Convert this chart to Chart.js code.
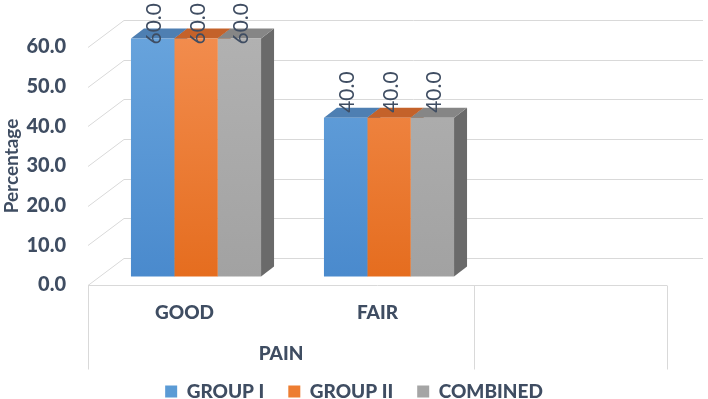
<!DOCTYPE html>
<html>
<head>
<meta charset="utf-8">
<script src="https://cdn.jsdelivr.net/npm/chart.js@4"></script>
<style>
  html, body { margin: 0; padding: 0; background: #fff; }
  canvas { display: block; }
</style>
</head>
<body>
<canvas id="myChart" width="708" height="399"></canvas>
<script>
// data
const categories = ['GOOD', 'FAIR', ''];
const groupLabel = 'PAIN';
const seriesNames = ['GROUP I', 'GROUP II', 'COMBINED'];
const group1 = [60.0, 40.0, null];
const group2 = [60.0, 40.0, null];
const combined = [60.0, 40.0, null];
const yTicks = [0, 10, 20, 30, 40, 50, 60];

const textColor = '#3f4d62';
const gridColor = '#d9d9d9';
const boldWeight = '900';

// colours: front face (top, bottom), top face, side face
const faceColors = [
    { top: '#67a3dc', bottom: '#4a8acd', cap: '#4e7fb2', side: '#3f6e9f', legend: '#5B9BD5' },
    { top: '#f28c4d', bottom: '#e56d1f', cap: '#c4622a', side: '#a9541f', legend: '#ED7D31' },
    { top: '#b1b1b1', bottom: '#a2a2a2', cap: '#868686', side: '#6a6a6a', legend: '#A5A5A5' }
];

// depth of floor / wall and of the bars
const WALL_DX = 36, WALL_DY = -27;
const BAR_DX = 13, BAR_DY = -10;
const SHIFT_X = 11.5, SHIFT_Y = -8.5;

function gradient(c) {
    return (context) => {
        const ca = context.chart.chartArea;
        if (!ca) return c.bottom;
        const g = context.chart.ctx.createLinearGradient(0, ca.top, 0, ca.bottom);
        g.addColorStop(0, c.top);
        g.addColorStop(1, c.bottom);
        return g;
    };
}

const excel3d = {
    id: 'excel3d',
    beforeDatasetsDraw(chart) {
        const ctx = chart.ctx;
        const ca = chart.chartArea;
        const xs = chart.scales.x;
        const ys = chart.scales.y;

        ctx.save();
        ctx.strokeStyle = gridColor;
        ctx.lineWidth = 1;
        // back wall grid with side wall diagonals
        yTicks.forEach((v) => {
            const y = Math.round(ys.getPixelForValue(v)) + 0.5;
            ctx.beginPath();
            ctx.moveTo(ca.left, y);
            ctx.lineTo(ca.left + WALL_DX, y + WALL_DY);
            ctx.lineTo(ca.right + WALL_DX, y + WALL_DY);
            ctx.stroke();
        });
        // floor front edge and category boxes
        const bottom = Math.round(ca.bottom) + 0.5;
        ctx.beginPath();
        ctx.moveTo(ca.left, bottom);
        ctx.lineTo(ca.right, bottom);
        const half = (xs.getPixelForValue(1) - xs.getPixelForValue(0)) / 2;
        const splitX = xs.getPixelForValue(1) + half;
        [ca.left, splitX, ca.right].forEach((x) => {
            const px = Math.round(x) + 0.5;
            ctx.moveTo(px, bottom);
            ctx.lineTo(px, bottom + 84);
        });
        ctx.stroke();

        // category labels and group label
        ctx.fillStyle = textColor;
        ctx.font = boldWeight + ' 19px Lato';
        ctx.textAlign = 'center';
        ctx.textBaseline = 'middle';
        categories.forEach((c, i) => {
            if (c) ctx.fillText(c, xs.getPixelForValue(i), ca.bottom + 28);
        });
        const groupX = (xs.getPixelForValue(0) + xs.getPixelForValue(1)) / 2;
        ctx.fillText(groupLabel, groupX, ca.bottom + 69);
        ctx.restore();

        // bars are drawn shifted into the middle of the depth
        ctx.save();
        ctx.translate(SHIFT_X, SHIFT_Y);
        chart.data.datasets.forEach((ds, di) => {
            const meta = chart.getDatasetMeta(di);
            const col = faceColors[di];
            meta.data.forEach((bar, i) => {
                if (ds.data[i] == null) return;
                const { x, y, base, width } = bar.getProps(['x', 'y', 'base', 'width'], true);
                const l = x - width / 2, r = x + width / 2;
                // side face
                ctx.fillStyle = col.side;
                ctx.beginPath();
                ctx.moveTo(r, y);
                ctx.lineTo(r + BAR_DX, y + BAR_DY);
                ctx.lineTo(r + BAR_DX, base + BAR_DY);
                ctx.lineTo(r, base);
                ctx.closePath();
                ctx.fill();
                // top face
                ctx.fillStyle = col.cap;
                ctx.beginPath();
                ctx.moveTo(l, y);
                ctx.lineTo(l + BAR_DX, y + BAR_DY);
                ctx.lineTo(r + BAR_DX, y + BAR_DY);
                ctx.lineTo(r, y);
                ctx.closePath();
                ctx.fill();
            });
        });
    },
    afterDatasetsDraw(chart) {
        const ctx = chart.ctx;
        ctx.restore();

        // rotated value labels
        ctx.save();
        ctx.fillStyle = textColor;
        ctx.font = '21px Lato';
        ctx.textAlign = 'left';
        ctx.textBaseline = 'middle';
        chart.data.datasets.forEach((ds, di) => {
            const meta = chart.getDatasetMeta(di);
            meta.data.forEach((bar, i) => {
                const v = ds.data[i];
                if (v == null) return;
                const txt = v.toFixed(1);
                const len = ctx.measureText(txt).width;
                const x = bar.x + SHIFT_X + 2;
                let yb = bar.y + SHIFT_Y - 5;
                if (yb - len < 3) yb = 3 + len;
                ctx.save();
                ctx.translate(x, yb);
                ctx.rotate(-Math.PI / 2);
                ctx.fillText(txt, 0, 0);
                ctx.restore();
            });
        });
        ctx.restore();
    }
};

const seriesData = [group1, group2, combined];

new Chart(document.getElementById('myChart'), {
    type: 'bar',
    data: {
        labels: categories,
        datasets: seriesNames.map((name, i) => ({
            label: name,
            data: seriesData[i],
            backgroundColor: gradient(faceColors[i]),
            borderWidth: 0,
            barPercentage: 1,
            categoryPercentage: 0.674,
            clip: false
        }))
    },
    options: {
        responsive: false,
        animation: false,
        layout: { padding: { top: 47, right: 0, bottom: -12, left: 0 } },
        plugins: {
            tooltip: { enabled: false },
            legend: {
                position: 'bottom',
                labels: {
                    color: textColor,
                    font: { family: 'Lato', size: 19, weight: boldWeight },
                    boxWidth: 12,
                    boxHeight: 12,
                    padding: 24,
                    generateLabels: () => seriesNames.map((name, i) => ({
                        text: name,
                        fillStyle: faceColors[i].legend,
                        strokeStyle: faceColors[i].legend,
                        lineWidth: 0,
                        hidden: false,
                        datasetIndex: i,
                        fontColor: textColor
                    }))
                }
            }
        },
        scales: {
            x: {
                ticks: { display: false },
                grid: { display: false },
                border: { display: false },
                afterFit: (s) => { s.height = 73; }
            },
            y: {
                min: 0,
                max: 60,
                ticks: {
                    stepSize: 10,
                    padding: 22,
                    color: textColor,
                    font: { family: 'Lato', size: 20, weight: boldWeight },
                    callback: (v) => v.toFixed(1)
                },
                grid: { display: false, drawTicks: false },
                border: { display: false },
                title: {
                    display: true,
                    text: 'Percentage',
                    color: textColor,
                    font: { family: 'Lato', size: 19, weight: 'bold' },
                    padding: { top: 0, bottom: 0 }
                },
                afterFit: (s) => { s.width = 88; }
            },
            // empty right axis, only keeps room for the back wall depth
            yRight: {
                position: 'right',
                ticks: { display: false },
                grid: { display: false },
                border: { display: false },
                afterFit: (s) => { s.width = 41; }
            }
        }
    },
    plugins: [excel3d]
});
</script>
</body>
</html>
